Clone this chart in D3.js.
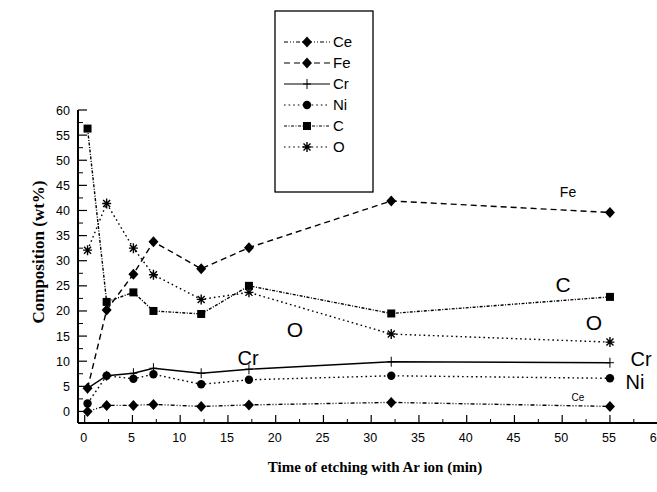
<!DOCTYPE html>
<html>
<head>
<meta charset="utf-8">
<script src="https://cdnjs.cloudflare.com/ajax/libs/d3/7.8.5/d3.min.js"></script>
<style>
  body { margin: 0; background: #fff; }
  svg { display: block; }
</style>
</head>
<body>
<div id="my_dataviz"></div>
<script>
// etching time (min) for every sample
var times = [0.3, 2.3, 5.1, 7.2, 12.2, 17.2, 32.1, 55.0];

// composition (wt%) per element
var ceVals = [0.0, 1.2, 1.2, 1.4, 1.0, 1.3, 1.8, 1.0];
var feVals = [4.6, 20.2, 27.3, 33.8, 28.4, 32.6, 41.9, 39.6];
var crVals = [4.6, 7.1, 7.6, 8.6, 7.6, 8.4, 9.9, 9.7];
var niVals = [1.6, 7.1, 6.5, 7.4, 5.4, 6.3, 7.1, 6.6];
var cVals  = [56.3, 21.8, 23.7, 20.0, 19.4, 25.0, 19.5, 22.8];
var oVals  = [32.1, 41.4, 32.5, 27.2, 22.3, 23.7, 15.4, 13.8];

var seriesNames = ["Ce", "Fe", "Cr", "Ni", "C", "O"];
var xTicks = [0, 5, 10, 15, 20, 25, 30, 35, 40, 45, 50, 55, 60];
var yTicks = [0, 5, 10, 15, 20, 25, 30, 35, 40, 45, 50, 55, 60];

var W = 657, H = 492;

var svg = d3.select("#my_dataviz")
  .append("svg")
    .attr("width", W)
    .attr("height", H)
    .style("font-family", "'Liberation Sans', Arial, sans-serif");

var x = d3.scaleLinear().domain([-0.7, 60]).range([78, 657.7]);
var y = d3.scaleLinear().domain([-2.3, 60]).range([423, 110]);

// style of each element's line + marker
var styles = {
  Ce: {vals: ceVals, dash: "4,2,1,2,1,2", marker: "diamond"},
  Fe: {vals: feVals, dash: "6,4", marker: "diamond"},
  Cr: {vals: crVals, dash: null, marker: "plus"},
  Ni: {vals: niVals, dash: "1.6,3", marker: "circle"},
  C:  {vals: cVals,  dash: "3,1.5,1,1.5", marker: "square"},
  O:  {vals: oVals,  dash: "1.6,3", marker: "star"}
};

function drawMarker(g, type, cx, cy) {
  if (type === "diamond") {
    g.append("path")
      .attr("d", "M0,-5.5L5,0L0,5.5L-5,0Z")
      .attr("transform", "translate(" + cx + "," + cy + ")")
      .attr("fill", "#000");
  } else if (type === "circle") {
    g.append("circle").attr("cx", cx).attr("cy", cy).attr("r", 4.2).attr("fill", "#000");
  } else if (type === "square") {
    g.append("rect").attr("x", cx - 4).attr("y", cy - 4).attr("width", 8).attr("height", 8).attr("fill", "#000");
  } else if (type === "plus") {
    g.append("path")
      .attr("d", "M-4,0H4M0,-5V5")
      .attr("transform", "translate(" + cx + "," + cy + ")")
      .attr("stroke", "#000").attr("stroke-width", 1);
  } else if (type === "star") {
    g.append("path")
      .attr("d", "M-4.5,0H4.5M0,-5V5M-3.5,-3.5L3.5,3.5M-3.5,3.5L3.5,-3.5")
      .attr("transform", "translate(" + cx + "," + cy + ")")
      .attr("stroke", "#000").attr("stroke-width", 1.4);
  }
}

// axes
var xAxis = svg.append("g").attr("transform", "translate(0,423)");
xAxis.append("line").attr("x1", 78).attr("x2", W).attr("y1", 0).attr("y2", 0)
  .attr("stroke", "#000").attr("stroke-width", 2);
xTicks.forEach(function(t) {
  xAxis.append("line").attr("x1", x(t)).attr("x2", x(t)).attr("y1", 0).attr("y2", -8)
    .attr("stroke", "#000").attr("stroke-width", 1.2);
  xAxis.append("line").attr("x1", x(t + 2.5)).attr("x2", x(t + 2.5)).attr("y1", 0).attr("y2", -4)
    .attr("stroke", "#000").attr("stroke-width", 1);
  xAxis.append("text").attr("x", x(t) - 1).attr("y", 19)
    .attr("text-anchor", "middle").style("font-size", "12.5px").text(t);
});

var yAxis = svg.append("g").attr("transform", "translate(78,0)");
yAxis.append("line").attr("x1", 0).attr("x2", 0).attr("y1", y(60)).attr("y2", 423)
  .attr("stroke", "#000").attr("stroke-width", 2);
yTicks.forEach(function(t) {
  yAxis.append("line").attr("x1", 0).attr("x2", 9).attr("y1", y(t)).attr("y2", y(t))
    .attr("stroke", "#000").attr("stroke-width", 1.2);
  if (t < 60) {
    yAxis.append("line").attr("x1", 0).attr("x2", 5).attr("y1", y(t + 2.5)).attr("y2", y(t + 2.5))
      .attr("stroke", "#000").attr("stroke-width", 1);
  }
  yAxis.append("text").attr("x", -8).attr("y", y(t) + 4.5)
    .attr("text-anchor", "end").style("font-size", "12.5px").text(t);
});

// axis titles
svg.append("text")
  .attr("transform", "translate(44,252) rotate(-90)")
  .attr("text-anchor", "middle")
  .style("font-family", "'Liberation Serif', 'Times New Roman', serif")
  .style("font-weight", "bold").style("font-size", "17px")
  .text("Composition (wt%)");
svg.append("text")
  .attr("x", 375).attr("y", 472)
  .attr("text-anchor", "middle")
  .style("font-family", "'Liberation Serif', 'Times New Roman', serif")
  .style("font-weight", "bold").style("font-size", "15px")
  .text("Time of etching with Ar ion (min)");

// series
var line = d3.line()
  .x(function(d) { return x(d[0]); })
  .y(function(d) { return y(d[1]); });

seriesNames.forEach(function(name) {
  var s = styles[name];
  var pts = times.map(function(t, i) { return [t, s.vals[i]]; });
  var g = svg.append("g");
  g.append("path").datum(pts)
    .attr("d", line)
    .attr("fill", "none")
    .attr("stroke", "#000")
    .attr("stroke-width", name === "Cr" ? 1.4 : 1.4)
    .attr("stroke-dasharray", s.dash);
  pts.forEach(function(p) { drawMarker(g, s.marker, x(p[0]), y(p[1])); });
});

// in-plot labels
var labels = [
  {t: "Fe", x: 568, y: 197, s: 14},
  {t: "C", x: 563, y: 292, s: 21},
  {t: "O", x: 594, y: 330, s: 21},
  {t: "O", x: 295, y: 337, s: 21},
  {t: "Cr", x: 248, y: 365, s: 20},
  {t: "Cr", x: 641, y: 366, s: 20},
  {t: "Ni", x: 635, y: 389, s: 20},
  {t: "Ce", x: 578, y: 401, s: 10}
];
labels.forEach(function(l) {
  svg.append("text").attr("x", l.x).attr("y", l.y)
    .attr("text-anchor", "middle").style("font-size", l.s + "px").text(l.t);
});

// legend
var legend = svg.append("g");
legend.append("rect").attr("x", 275).attr("y", 11).attr("width", 98).attr("height", 181)
  .attr("fill", "#fff").attr("stroke", "#000").attr("stroke-width", 1.3);
seriesNames.forEach(function(name, i) {
  var s = styles[name];
  var ly = 42 + i * 21;
  legend.append("line").attr("x1", 284).attr("x2", 330).attr("y1", ly).attr("y2", ly)
    .attr("stroke", "#000").attr("stroke-width", 1.2).attr("stroke-dasharray", s.dash);
  drawMarker(legend, s.marker, 307, ly);
  legend.append("text").attr("x", 333).attr("y", ly + 5)
    .style("font-size", "15px").text(name);
});
</script>
</body>
</html>
